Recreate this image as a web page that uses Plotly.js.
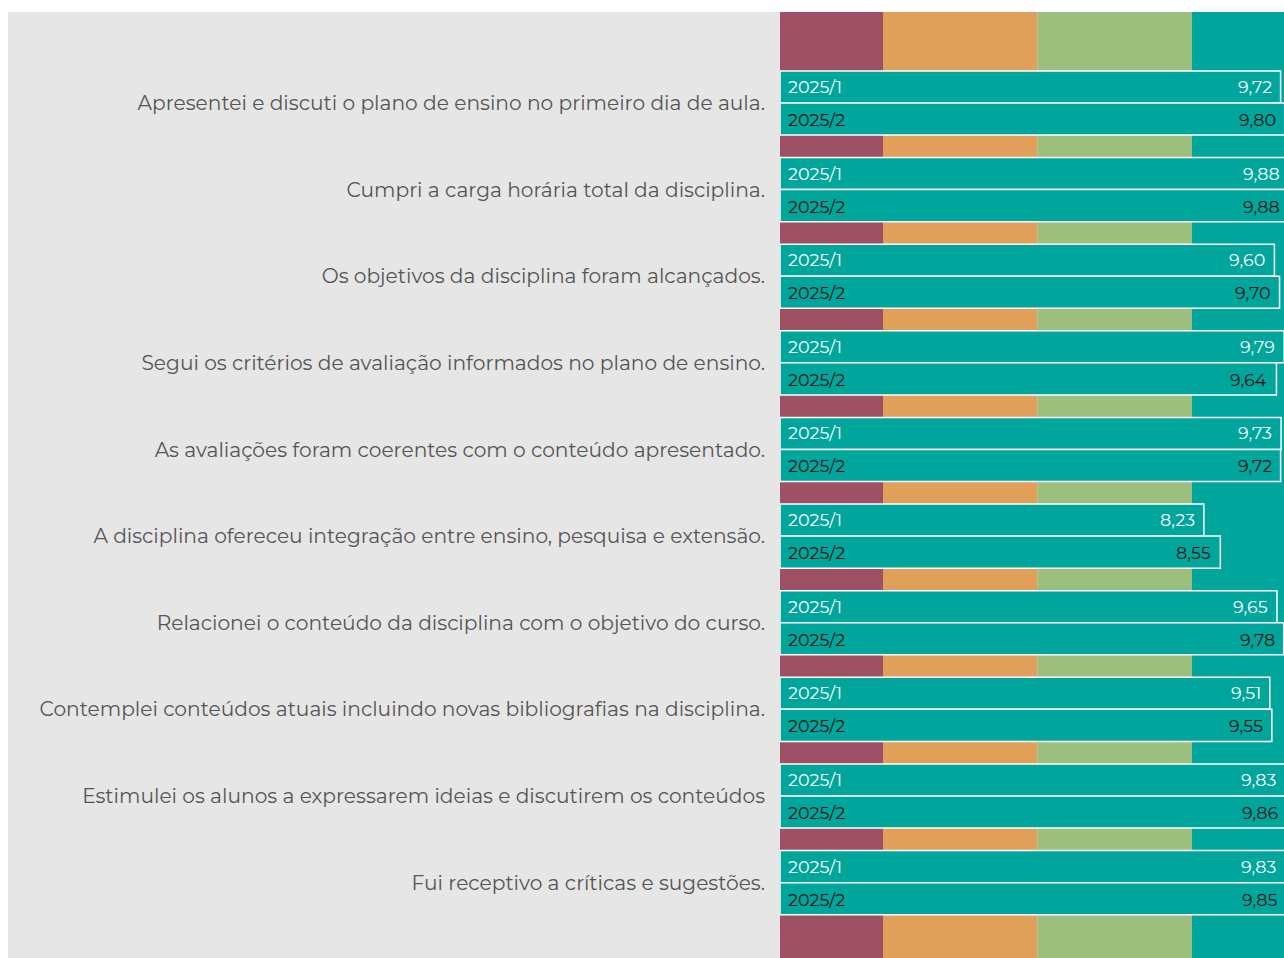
<!DOCTYPE html>
<html>
<head>
<meta charset="utf-8">
<script src="https://cdn.plot.ly/plotly-3.0.1.min.js"></script>
<style>
  html, body { margin: 0; padding: 0; background: #ffffff; overflow: hidden; width: 1284px; height: 958px; }
  #chart { position: absolute; left: 8px; top: 12px; width: 1287px; height: 946px; }
</style>
</head>
<body>
<div id="chart"></div>
<script>
// ---- data ----
const questions = [
  "Apresentei e discuti o plano de ensino no primeiro dia de aula.",
  "Cumpri a carga horária total da disciplina.",
  "Os objetivos da disciplina foram alcançados.",
  "Segui os critérios de avaliação informados no plano de ensino.",
  "As avaliações foram coerentes com o conteúdo apresentado.",
  "A disciplina ofereceu integração entre ensino, pesquisa e extensão.",
  "Relacionei o conteúdo da disciplina com o objetivo do curso.",
  "Contemplei conteúdos atuais incluindo novas bibliografias na disciplina.",
  "Estimulei os alunos a expressarem ideias e discutirem os conteúdos",
  "Fui receptivo a críticas e sugestões."
];
const periods = ["2025/1", "2025/2"];
const scores2025_1 = [9.72, 9.88, 9.60, 9.79, 9.73, 8.23, 9.65, 9.51, 9.83, 9.83];
const scores2025_2 = [9.80, 9.88, 9.70, 9.64, 9.72, 8.55, 9.78, 9.55, 9.86, 9.85];
const bandLimits = [0, 2, 5, 8, 10];

// ---- styles ----
const bandColors = ["#9E5064", "#E0A05A", "#9DBF7E", "#00A69B"];
const barColor = "#00A69B";
const periodTextColors = ["#ffffff", "#111111"];
const FONT = "Montserrat, 'Open Sans', sans-serif";

const series = [scores2025_1, scores2025_2];
const fmt = v => v.toFixed(2).replace(".", ",");

const traces = series.map((vals, i) => ({
  type: "bar",
  orientation: "h",
  name: periods[i],
  y: questions,
  x: vals,
  marker: { color: barColor, line: { color: "#ffffff", width: 1.5 } },
  hoverinfo: "skip",
  showlegend: false
}));

const shapes = bandColors.map((c, i) => ({
  type: "rect", xref: "x", yref: "paper", layer: "below",
  x0: bandLimits[i], x1: bandLimits[i + 1], y0: 0, y1: 1,
  fillcolor: c, line: { width: 0 }
}));

const annotations = [];
series.forEach((vals, i) => {
  const shift = i === 0 ? 16.5 : -16.5;
  vals.forEach((v, j) => {
    annotations.push({
      x: 0, y: questions[j], xref: "x", yref: "y",
      text: periods[i], showarrow: false, xanchor: "left", yanchor: "middle",
      xshift: 6, yshift: shift,
      font: { family: FONT, size: 17.5, color: periodTextColors[i] }
    });
    annotations.push({
      x: v, y: questions[j], xref: "x", yref: "y",
      text: fmt(v), showarrow: false, xanchor: "right", yanchor: "middle",
      xshift: -7, yshift: shift,
      font: { family: FONT, size: 17.5, color: periodTextColors[i] }
    });
  });
});

const layout = {
  width: 1287, height: 946,
  margin: { l: 772, r: 0, t: 0, b: 0, pad: 0 },
  paper_bgcolor: "#E6E6E6",
  plot_bgcolor: "#E6E6E6",
  barmode: "group",
  bargap: 0.26,
  bargroupgap: 0,
  font: { family: FONT },
  xaxis: { range: [0, 10], showgrid: false, zeroline: false, showticklabels: false, ticks: "", fixedrange: true },
  yaxis: {
    type: "category",
    range: [9.87, -1.05],
    showgrid: false, zeroline: false, ticks: "",
    ticklabelstandoff: 14,
    tickfont: { family: FONT, size: 20.2, color: "#555555" }
  },
  shapes: shapes,
  annotations: annotations
};

Plotly.newPlot("chart", traces, layout, { displayModeBar: false, staticPlot: true });
</script>
</body>
</html>
